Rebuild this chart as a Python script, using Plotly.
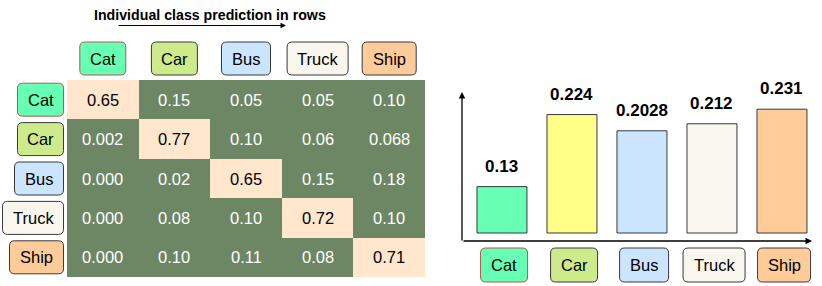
import plotly.graph_objects as go

# ---------------- data ----------------
classes = ["Cat", "Car", "Bus", "Truck", "Ship"]
confusion_text = [
    ["0.65", "0.15", "0.05", "0.05", "0.10"],
    ["0.002", "0.77", "0.10", "0.06", "0.068"],
    ["0.000", "0.02", "0.65", "0.15", "0.18"],
    ["0.000", "0.08", "0.10", "0.72", "0.10"],
    ["0.000", "0.10", "0.11", "0.08", "0.71"],
]
bar_values = [0.13, 0.224, 0.2028, 0.212, 0.231]
title_text = "Individual class prediction in rows"

# ---------------- styles ----------------
W, H = 822, 286
FONT = "Liberation Sans, Arial, Helvetica, sans-serif"
GREEN = "#6d8764"
DIAG = "#ffe6cc"
box_fill = {"Cat": "#66ffb3", "Car": "#cdeb8b", "Bus": "#cce5ff", "Truck": "#f9f7ed", "Ship": "#ffcc99"}
box_line = {"Cat": "#b85450", "Car": "#36393d", "Bus": "#36393d", "Truck": "#36393d", "Ship": "#36393d"}
bar_fill = {"Cat": "#66ffb3", "Car": "#ffff88", "Bus": "#cce5ff", "Truck": "#f9f7ed", "Ship": "#ffcc99"}
box_w = {"Cat": 46, "Car": 46, "Bus": 49, "Truck": 61, "Ship": 54}
box_w2 = {"Cat": 47, "Car": 47, "Bus": 49, "Truck": 62, "Ship": 53}
BOX_H = 34
LABEL_SIZE = 16.5


def px(x):
    return x / W


def py(y):
    return 1 - y / H


def rounded_path(x0, x1, y0, y1, r=5):
    return (f"M{x0+r},{y0} L{x1-r},{y0} Q{x1},{y0} {x1},{y0+r} "
            f"L{x1},{y1-r} Q{x1},{y1} {x1-r},{y1} L{x0+r},{y1} "
            f"Q{x0},{y1} {x0},{y1-r} L{x0},{y0+r} Q{x0},{y0} {x0+r},{y0} Z")


n = len(classes)
z = [[1 if i == j else 0 for j in range(n)] for i in range(n)]

fig = go.Figure()
fig.add_trace(go.Heatmap(
    z=z, x=classes, y=classes, xaxis="x", yaxis="y",
    colorscale=[[0, GREEN], [1, DIAG]], showscale=False, hoverinfo="skip",
))

# bar chart on a truncated scale
Y_BASE = 0.0695
fig.add_trace(go.Bar(
    x=classes, y=[v - Y_BASE for v in bar_values], base=Y_BASE,
    xaxis="x2", yaxis="y2", width=0.714,
    marker=dict(color=[bar_fill[c] for c in classes], line=dict(color="#36393d", width=1)),
    hoverinfo="skip",
))

annotations = []
shapes = []

# heatmap cell text
for i, row in enumerate(confusion_text):
    for j, t in enumerate(row):
        annotations.append(dict(
            x=classes[j], y=classes[i], xref="x", yref="y", text=t, showarrow=False,
            xanchor="center", yanchor="middle",
            font=dict(family=FONT, size=LABEL_SIZE, color="#000000" if i == j else "#ffffff"),
        ))

# header boxes (columns)
for j, c in enumerate(classes):
    w = box_w[c]
    shapes.append(dict(
        type="path", xref="x", yref="paper", xsizemode="pixel", ysizemode="pixel",
        xanchor=j, yanchor=py(58.5), path=rounded_path(-w / 2, w / 2, -BOX_H / 2 + 0.5, BOX_H / 2 - 0.5),
        fillcolor=box_fill[c], line=dict(color=box_line[c], width=1), layer="above",
    ))
    annotations.append(dict(x=c, y=py(58.5), xref="x", yref="paper", text=c, showarrow=False,
                            xanchor="center", yanchor="middle",
                            font=dict(family=FONT, size=LABEL_SIZE, color="#000")))

# row label boxes
for i, c in enumerate(classes):
    w = box_w[c]
    shapes.append(dict(
        type="path", xref="paper", yref="y", xsizemode="pixel", ysizemode="pixel",
        xanchor=px(63.5), yanchor=i, path=rounded_path(-w, 0, -BOX_H / 2 + 0.5, BOX_H / 2 - 0.5),
        fillcolor=box_fill[c], line=dict(color=box_line[c], width=1), layer="above",
    ))
    annotations.append(dict(x=px(63.5 - w / 2), y=c, xref="paper", yref="y", text=c, showarrow=False,
                            xanchor="center", yanchor="middle",
                            font=dict(family=FONT, size=LABEL_SIZE, color="#000")))

# bar category boxes
for j, c in enumerate(classes):
    w = box_w2[c]
    shapes.append(dict(
        type="path", xref="x2", yref="paper", xsizemode="pixel", ysizemode="pixel",
        xanchor=j + 0.03, yanchor=py(265), path=rounded_path(-w / 2, w / 2, -BOX_H / 2, BOX_H / 2),
        fillcolor=box_fill[c], line=dict(color=box_line[c], width=1), layer="above",
    ))
    annotations.append(dict(x=j + 0.03, y=py(265), xref="x2", yref="paper", text=c, showarrow=False,
                            xanchor="center", yanchor="middle",
                            font=dict(family=FONT, size=LABEL_SIZE, color="#000")))

# bar value labels
for j, c in enumerate(classes):
    annotations.append(dict(x=c, y=bar_values[j], xref="x2", yref="y2", text=f"<b>{bar_values[j]}</b>",
                            showarrow=False, xanchor="center", yanchor="bottom", yshift=9,
                            font=dict(family=FONT, size=17, color="#000")))

# axes arrows for bar chart
annotations.append(dict(x=0, y=1, xref="x2 domain", yref="y2 domain", ax=0, ay=150, axref="pixel", ayref="pixel",
                        showarrow=True, arrowhead=2, arrowsize=1, arrowwidth=1.3, arrowcolor="#000", text=""))
annotations.append(dict(x=1, y=0, xref="x2 domain", yref="y2 domain", ax=-350, ay=0, axref="pixel", ayref="pixel",
                        showarrow=True, arrowhead=2, arrowsize=1, arrowwidth=1.3, arrowcolor="#000", text=""))

# title and its arrow
annotations.append(dict(x=px(210), y=py(14.5), xref="paper", yref="paper", text=f"<b>{title_text}</b>",
                        showarrow=False, xanchor="center", yanchor="middle",
                        font=dict(family=FONT, size=14.2, color="#000")))
annotations.append(dict(x=px(286), y=py(25.5), xref="paper", yref="paper", ax=-169, ay=0,
                        axref="pixel", ayref="pixel",
                        showarrow=True, arrowhead=2, arrowsize=1, arrowwidth=1.1, arrowcolor="#000", text=""))

hidden = dict(showgrid=False, zeroline=False, showticklabels=False, ticks="", showline=False, fixedrange=True)

fig.update_layout(
    width=W, height=H, margin=dict(l=0, r=0, t=0, b=0),
    paper_bgcolor="white", plot_bgcolor="white", showlegend=False,
    xaxis=dict(domain=[px(67), px(425)], **hidden),
    yaxis=dict(domain=[py(277), py(80)], autorange="reversed", **hidden),
    xaxis2=dict(domain=[px(462), px(812)], range=[-0.571, 4.429], anchor="y2", **hidden),
    yaxis2=dict(domain=[py(241), py(92)], range=[Y_BASE - 8 / 766.6, Y_BASE + 141 / 766.6], anchor="x2", **hidden),
    annotations=annotations, shapes=shapes,
)

fig.write_html("out.html", config={"displayModeBar": False},
               post_script="document.body.style.margin='0';")
